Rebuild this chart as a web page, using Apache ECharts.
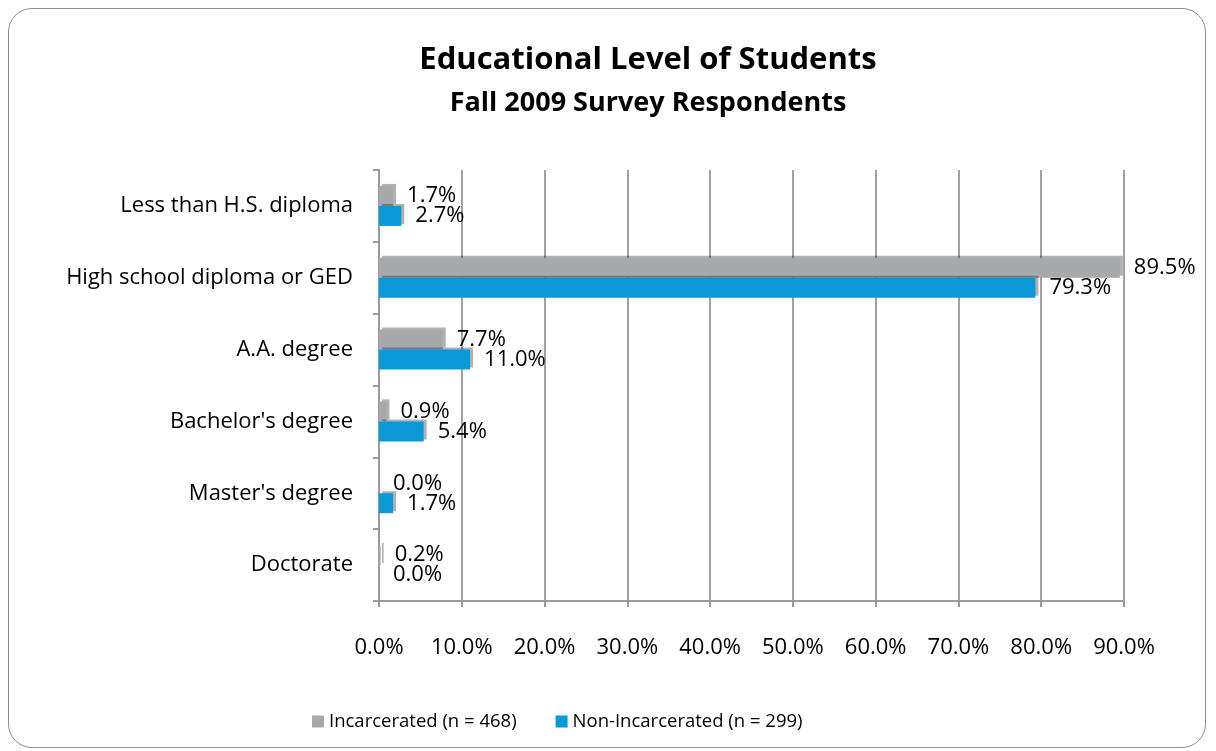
<!DOCTYPE html>
<html>
<head>
<meta charset="utf-8">
<script src="https://cdn.jsdelivr.net/npm/echarts@6/dist/echarts.min.js"></script>
<style>
  html, body { margin: 0; padding: 0; background: #fff; }
  .frame {
    position: absolute; left: 8px; top: 8px; width: 1198px; height: 740px;
    border: 1.5px solid #8c8c8c; border-radius: 24px; box-sizing: border-box;
  }
  #chart { position: absolute; left: 0; top: 0; width: 1216px; height: 751px; }
</style>
</head>
<body>
<div class="frame"></div>
<div id="chart"></div>
<script>
const categories = [
  'Less than H.S. diploma',
  'High school diploma or GED',
  'A.A. degree',
  "Bachelor's degree",
  "Master's degree",
  'Doctorate'
]
const incarcerated = [1.7, 89.5, 7.7, 0.9, 0.0, 0.2]
const nonIncarcerated = [2.7, 79.3, 11.0, 5.4, 1.7, 0.0]
const seriesNames = ['Incarcerated (n = 468)', 'Non-Incarcerated (n = 299)']
const colors = ['#a8a9ad', '#0998d8']
const font = '"Open Sans", Lato, sans-serif'

const chart = echarts.init(document.getElementById('chart'))

function bar(name, data, color) {
  return {
    name,
    type: 'bar',
    data,
    barWidth: 20,
    barGap: '0%',
    itemStyle: { color, shadowColor: 'rgba(0,0,0,0.3)', shadowOffsetX: 3, shadowOffsetY: -2, shadowBlur: 0 },
    label: {
      show: true,
      position: 'right',
      distance: 14,
      color: '#000',
      fontFamily: font,
      fontSize: 22,
      formatter: (p) => p.value.toFixed(1) + '%'
    }
  }
}

chart.setOption({
  animation: false,
  title: {
    text: 'Educational Level of Students',
    subtext: 'Fall 2009 Survey Respondents',
    left: 643,
    top: 40,
    textAlign: 'center',
    itemGap: 14,
    textStyle: { fontFamily: font, fontSize: 31, fontWeight: 'bold', color: '#000' },
    subtextStyle: { fontFamily: font, fontSize: 27, fontWeight: 'bold', color: '#000' }
  },
  legend: {
    top: 707,
    left: 307,
    itemWidth: 12,
    itemHeight: 12,
    itemGap: 39,
    icon: 'rect',
    textStyle: { fontFamily: font, fontSize: 18.5, color: '#000' },
    data: seriesNames
  },
  grid: { left: 379, right: 92, top: 170, bottom: 150 },
  xAxis: {
    type: 'value',
    min: 0,
    max: 90,
    interval: 10,
    axisLine: { show: true, lineStyle: { color: '#9a9a9a', width: 2 } },
    axisTick: { show: true, length: 6, lineStyle: { color: '#9a9a9a', width: 2 } },
    axisLabel: {
      margin: 36,
      color: '#000',
      fontFamily: font,
      fontSize: 22,
      formatter: (v) => v.toFixed(1) + '%'
    },
    splitLine: { show: true, lineStyle: { color: '#a0a0a0', width: 2 } }
  },
  yAxis: {
    type: 'category',
    inverse: true,
    data: categories,
    axisLine: { show: true, lineStyle: { color: '#9a9a9a', width: 2 } },
    axisTick: { show: true, length: 6, lineStyle: { color: '#9a9a9a', width: 2 } },
    axisLabel: { margin: 26, color: '#000', fontFamily: font, fontSize: 22 }
  },
  series: [
    bar(seriesNames[0], incarcerated, colors[0]),
    bar(seriesNames[1], nonIncarcerated, colors[1])
  ]
})
</script>
</body>
</html>
